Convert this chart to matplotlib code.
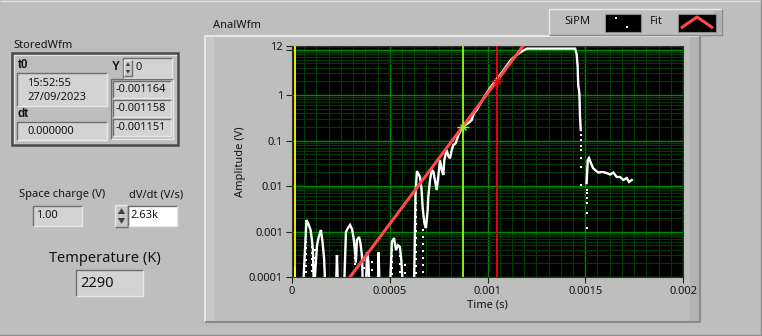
import numpy as np
import matplotlib
matplotlib.use("Agg")
import matplotlib.pyplot as plt
from matplotlib.patches import Rectangle, Polygon
from matplotlib.ticker import FixedLocator, MultipleLocator, LogLocator, NullFormatter, FixedFormatter

plt.rcParams['font.family'] = ['Noto Sans', 'DejaVu Sans']

nan = np.nan

# ---------------- data ----------------
# SiPM trace (time in microseconds, amplitude in volts); nan = non-plottable (negative) samples
sipm_t_us = [56, 69, 74, 84, 95, 102, 107, 112, 128, 138, 148, 156, 164, 171, nan,
             225, 230, 235, nan,
             266, 276, 286, 297, 307, 315, 322, 327, 332, 343, 350, 358, 363, 378, 384, 391, 396, nan,
             440, 443, 448, nan,
             501, 511, 522, 532, 542, 552, 560, 568, nan,
             624, 632, 639, 655, 663, 668, 677, 685, 694, 697, 706, 715, 723, 731, 740, 748, 757,
             766, 774, 779, 791, 800, 808, 817, 825, 837, 851, 868, 885, 902, 919, 931, 945, 962,
             977, 996, 1013, 1028, 1047, 1064, 1079, 1097, 1115, 1130, 1149, 1166, 1182, 1202,
             1448, 1456, 1461, 1464, 1470, 1473, 1477, nan,
             1507, 1513, 1519, 1527, 1533, 1540, 1550, 1567, 1581, 1592, 1610, 1627, 1644, 1661,
             1678, 1695, 1712, 1724, 1738]
sipm_v = [5e-5, 6.5e-4, 1.79e-3, 1.46e-3, 1.08e-3, 6.5e-4, 3.9e-4, 5e-5, 5.0e-4, 8.0e-4, 1.08e-3, 5.9e-4, 2.6e-4, 5e-5, nan,
          5e-5, 3.05e-4, 5e-5, nan,
          5e-5, 9.8e-4, 1.19e-3, 1.39e-3, 1.13e-3, 7.2e-4, 3.9e-4, 2.1e-4, 6.5e-4, 7.6e-4, 5.6e-4, 2.9e-4, 5e-5, 5e-5, 3.5e-4, 2.1e-4, 5e-5, nan,
          5e-5, 3.5e-4, 5e-5, nan,
          5e-5, 5.9e-4, 7.2e-4, 3.9e-4, 5.0e-4, 4.6e-4, 2.1e-4, 5e-5, nan,
          5e-5, 7.0e-3, 0.0214, 0.0158, 8.2e-3, 3.45e-3, 1.54e-3, 1.19e-3, 2.97e-3, 5.7e-3, 0.0136, 0.0225, 0.021, 0.0136, 8.2e-3, 0.0158, 0.0373,
          0.0225, 0.0175, 0.0373, 0.0618, 0.0456, 0.0407, 0.0618, 0.0796, 0.087, 0.132, 0.181, 0.219, 0.243, 0.282, 0.402, 0.468, 0.634,
          0.817, 1.107, 1.43, 1.75, 2.25, 2.75, 3.37, 4.34, 5.59, 6.5, 7.57, 8.59, 9.51, 10.5,
          10.5, 7.96, 4.34, 1.66, 1.107, 0.345, 0.170, nan,
          0.0116, 0.0373, 0.0412, 0.0337, 0.029, 0.0249, 0.0225, 0.0198, 0.0203, 0.0203, 0.0193, 0.0179, 0.0198, 0.0158,
          0.0158, 0.0136, 0.015, 0.0123, 0.0136]

# isolated SiPM samples (drawn as single points)
dots_t_us = [72, 72, 72, 72, 72, 72,
             100, 100, 100, 100, 100,
             118, 118, 118, 118,
             322, 322, 322,
             368, 368,
             409, 409,
             512, 512, 512, 512, 512,
             552, 552, 552,
             578, 578,
             634, 634, 634, 634, 634, 634, 634, 634, 634, 634, 634,
             670, 670, 670, 670, 670, 670, 670,
             1477, 1477, 1477, 1477, 1477, 1477, 1477,
             1507, 1507, 1507, 1507, 1507, 1507]
dots_v = [5.87e-4, 4.33e-4, 3.2e-4, 2.37e-4, 1.74e-4, 1.29e-4,
          4.56e-4, 3.37e-4, 2.49e-4, 1.84e-4, 1.35e-4,
          3.92e-4, 2.62e-4, 1.74e-4, 1.22e-4,
          2.62e-4, 1.93e-4, 1.43e-4,
          2.37e-4, 1.58e-4,
          2.14e-4, 1.43e-4,
          3.92e-4, 2.9e-4, 2.14e-4, 1.58e-4, 1.16e-4,
          2.9e-4, 1.93e-4, 1.29e-4,
          1.84e-4, 1.22e-4,
          4.23e-3, 2.97e-3, 2.08e-3, 1.46e-3, 1.03e-3, 7.19e-4, 5.05e-4, 3.54e-4, 2.49e-4, 1.74e-4, 1.22e-4,
          1.08e-3, 7.57e-4, 5.31e-4, 3.73e-4, 2.62e-4, 1.84e-4, 1.29e-4,
          0.132, 0.1026, 0.0757, 0.0618, 0.0412, 0.0266, 0.0105,
          8.17e-3, 7.02e-3, 5.45e-3, 4.23e-3, 2.59e-3, 1.21e-3]

# exponential fit (straight on log axis)
fit_t = [2.967e-4, 1.1816e-3]
fit_v = [1e-4, 12]

# cursors
cursor_t = [1.4e-5, 8.73e-4, 1.047e-3]
cursor_v = [1.2e-4, 0.20, 2.03]
cursor_colors = ['#FFFF00', '#8CFF1A', '#FF0000']

x_ticks = [0, 0.0005, 0.001, 0.0015, 0.002]
x_tick_labels = ['0', '0.0005', '0.001', '0.0015', '0.002']
y_ticks = [1e-4, 1e-3, 1e-2, 0.1, 1, 10, 12]
y_tick_labels = ['0.0001', '0.001', '0.01', '0.1', '1', '', '12']

# panel values
t0_time = '15:52:55'
t0_date = '27/09/2023'
dt_value = '0.000000'
y_index = '0'
y_values = ['-0.001164', '-0.001158', '-0.001151']
space_charge = '1.00'
dvdt = '2.63k'
temperature = '2290'

# ---------------- figure ----------------
W, H = 762, 336
BG = '#BEBEBE'
FIELD = '#D3D3D3'
DARK = '#6E6E6E'
LIGHT = '#E8E8E8'
TXT = '#141414'
FS = 8
BOLD = dict(family=['Liberation Sans', 'DejaVu Sans'], weight='bold', fontsize=8.5)

fig = plt.figure(figsize=(W / 100, H / 100), dpi=100, facecolor=BG)
ui = fig.add_axes([0, 0, 1, 1], zorder=0)
ui.set_xlim(0, W)
ui.set_ylim(H, 0)
ui.axis('off')


def bevel(x0, y0, x1, y1, fc, tl, br, lw=1.0):
    ui.add_patch(Rectangle((x0, y0), x1 - x0, y1 - y0, fc=fc, ec='none'))
    ui.plot([x0, x0, x1], [y1, y0, y0], color=tl, lw=lw, solid_capstyle='butt')
    ui.plot([x0, x1, x1], [y1, y1, y0], color=br, lw=lw, solid_capstyle='butt')


def spinner(x0, y0, x1, y1):
    bevel(x0, y0, x1, y1, '#C8C8C8', LIGHT, DARK)
    xm = (x0 + x1) / 2
    ym = (y0 + y1) / 2
    w = (x1 - x0) * 0.28
    ui.add_patch(Polygon([[xm - w, ym - 2], [xm + w, ym - 2], [xm, ym - 2 - 1.6 * w]], fc='#404040', ec='none'))
    ui.add_patch(Polygon([[xm - w, ym + 2], [xm + w, ym + 2], [xm, ym + 2 + 1.6 * w]], fc='#404040', ec='none'))


# outer border of the panel
ui.plot([0.5, W - 0.5], [0.5, 0.5], color='#E0E0E0', lw=1)
ui.plot([W - 1, W - 1], [0, H], color='#8C8C8C', lw=1)
ui.plot([0, W], [H - 1, H - 1], color='#8C8C8C', lw=1)

# ---- StoredWfm cluster ----
ui.text(13, 45, 'StoredWfm', fontsize=FS, color=TXT, va='center')
ui.add_patch(Rectangle((12, 53), 166, 92, fc=BG, ec='#4A4A4A', lw=1.8))
ui.plot([14, 14, 176], [143, 55, 55], color=LIGHT, lw=0.8)
ui.text(18, 65, 't0', color=TXT, va='center', **BOLD)
bevel(17, 73, 107, 106, FIELD, DARK, LIGHT)
ui.text(27, 83, t0_time, fontsize=FS, color=TXT, va='center')
ui.text(27, 97, t0_date, fontsize=FS, color=TXT, va='center')
ui.text(18, 114, 'dt', color=TXT, va='center', **BOLD)
bevel(17, 122, 107, 140, FIELD, DARK, LIGHT)
ui.text(27, 131, dt_value, fontsize=FS, color=TXT, va='center')
ui.text(112, 67, 'Y', color=TXT, va='center', **BOLD)
bevel(123, 58, 172, 78, FIELD, DARK, LIGHT)
spinner(124, 60, 132, 76)
ui.text(135, 68, y_index, fontsize=FS, color=TXT, va='center')
bevel(111, 79, 173, 139, BG, DARK, LIGHT)
for i, val in enumerate(y_values):
    yy = 81 + i * 19
    bevel(113, yy, 171, yy + 17, FIELD, DARK, LIGHT)
    ui.text(116, yy + 8.5, val, fontsize=FS, color=TXT, va='center')

# ---- Space charge / dV/dt ----
ui.text(62, 195, 'Space charge (V)', fontsize=FS, color=TXT, va='center', ha='center')
bevel(33, 206, 82, 226, FIELD, DARK, LIGHT)
ui.text(36, 216, space_charge, fontsize=FS, color=TXT, va='center')
ui.text(156, 195, 'dV/dt (V/s)', fontsize=FS, color=TXT, va='center', ha='center')
spinner(115, 205, 128, 227)
bevel(128, 206, 177, 226, '#FFFFFF', DARK, LIGHT)
ui.text(130, 216, dvdt, fontsize=FS, color=TXT, va='center')

# ---- Temperature ----
ui.text(105, 258, 'Temperature (K)', fontsize=10.5, color=TXT, va='center', ha='center')
bevel(76, 270, 143, 296, FIELD, DARK, LIGHT)
ui.text(80, 283.5, temperature, fontsize=10.5, color=TXT, va='center')

# ---- Graph frame ----
ui.text(213, 25, 'AnalWfm', fontsize=FS, color=TXT, va='center')
bevel(205, 36, 700, 322, BG, LIGHT, '#8A8A8A', lw=1.5)
ui.add_patch(Rectangle((690, 37), 9, 284, fc='#B2B2B2', ec='none'))
ui.add_patch(Rectangle((206, 37), 8, 284, fc='#C8C8C8', ec='none'))

# ---- Legend ----
bevel(549, 9, 722, 35, BG, LIGHT, '#8A8A8A')
ui.add_patch(Rectangle((714, 10), 7, 24, fc='#B0B0B0', ec='none'))
ui.text(564, 22, 'SiPM', fontsize=FS, color=TXT, va='center')
ui.add_patch(Rectangle((605, 14), 36, 18, fc='black', ec='#8A8A8A', lw=0.8))
ui.add_patch(Rectangle((615, 16.5), 2, 2, fc='white', ec='none'))
ui.add_patch(Rectangle((626, 25.5), 2, 2, fc='white', ec='none'))
ui.text(650, 22, 'Fit', fontsize=FS, color=TXT, va='center')
ui.add_patch(Rectangle((678, 14), 38, 18, fc='black', ec='#8A8A8A', lw=0.8))
ui.plot([681, 697, 713], [28, 17, 28], color='#FF4848', lw=2.2, solid_capstyle='butt')

# ---------------- plot ----------------
L, R, T, B = 292, 683, 46, 277
ax = fig.add_axes([L / W, 1 - B / H, (R - L) / W, (B - T) / H], zorder=2)
ax.set_facecolor('black')
ax.set_yscale('log')
ax.set_xlim(0, 0.002)
ax.set_ylim(1e-4, 12)

ax.xaxis.set_major_locator(FixedLocator(x_ticks))
ax.xaxis.set_major_formatter(FixedFormatter(x_tick_labels))
ax.xaxis.set_minor_locator(MultipleLocator(0.0000625))
ax.yaxis.set_major_locator(FixedLocator(y_ticks))
ax.yaxis.set_major_formatter(FixedFormatter(y_tick_labels))
ax.yaxis.set_minor_locator(LogLocator(base=10, subs=np.arange(2, 10)))
ax.yaxis.set_minor_formatter(NullFormatter())

ax.grid(which='major', color='#008A00', lw=1.0)
ax.grid(which='minor', color='#003A00', lw=0.8)
ax.set_axisbelow(True)
ax.tick_params(which='major', direction='out', length=4, width=0.8, color='#202020',
               labelsize=FS, labelcolor=TXT, pad=2.5)
ax.tick_params(which='minor', length=0)
for s in ax.spines.values():
    s.set_color('#303030')
    s.set_linewidth(0.8)

ax.set_xlabel('Time (s)', fontsize=FS, color=TXT, labelpad=2)
ax.set_ylabel('Amplitude (V)', fontsize=FS, color=TXT, labelpad=2)

# cursors
for ct, cc in zip(cursor_t, cursor_colors):
    ax.axvline(ct, color=cc, lw=1.3, zorder=3)

sipm_t = np.array(sipm_t_us) * 1e-6
dots_t = np.array(dots_t_us) * 1e-6
ax.plot(sipm_t, sipm_v, color='white', lw=1.7, zorder=4, solid_joinstyle='miter')
ax.plot(dots_t, dots_v, ls='none', marker='s', ms=1.6, mew=0, color='white', zorder=4)
ax.plot(fit_t, fit_v, color='#FF4848', lw=2.2, zorder=5)

# cursor markers
ax.plot([cursor_t[0], cursor_t[0]], [8e-5, 1.55e-4], color=cursor_colors[0], lw=1.5, zorder=6)
for ct, cv, cc in zip(cursor_t[1:], cursor_v[1:], cursor_colors[1:]):
    ax.plot([ct], [cv], marker='+', ms=8, mew=1.0, color=cc, zorder=6)
    ax.plot([ct], [cv], marker='x', ms=5, mew=1.0, color=cc, zorder=6)

fig.savefig('out.png', dpi=100, facecolor=BG)
